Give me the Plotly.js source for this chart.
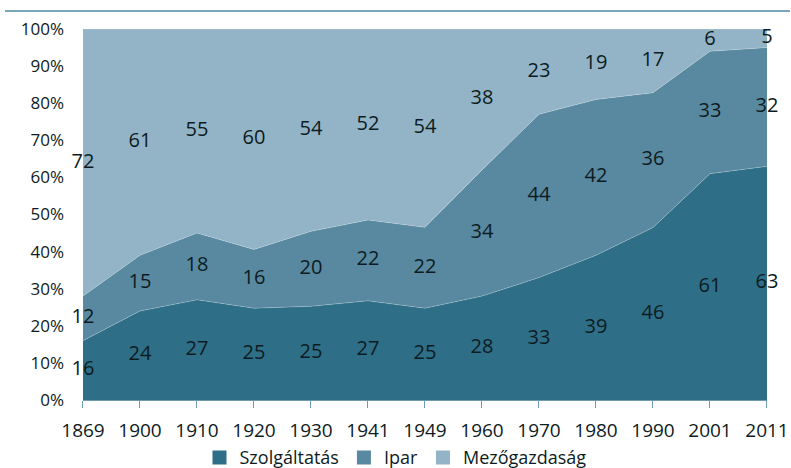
<!DOCTYPE html>
<html>
<head>
<meta charset="utf-8">
<script src="https://cdn.plot.ly/plotly-3.0.1.min.js"></script>
<style>
html,body{margin:0;padding:0;background:#fff;}
#chart{width:791px;height:468px;}
</style>
</head>
<body>
<div id="chart"></div>
<script>
const years = ['1869','1900','1910','1920','1930','1941','1949','1960','1970','1980','1990','2001','2011'];
const szolgaltatas = [16,24,27,25,25,27,25,28,33,39,46,61,63];
const ipar = [12,15,18,16,20,22,22,34,44,42,36,33,32];
const mezogazdasag = [72,61,55,60,54,52,54,38,23,19,17,6,5];
const seriesNames = ['Szolgáltatás','Ipar','Mezőgazdaság'];
const colors = ['#2E6F87','#5889A0','#92B4C6'];

const all = [szolgaltatas, ipar, mezogazdasag];
const traces = all.map((vals,i)=>({
  type:'scatter', mode:'lines', x:years, y:vals, name:seriesNames[i],
  stackgroup:'one', groupnorm:'percent',
  line:{width:0.6,color:'rgba(255,255,255,0.35)'}, fillcolor:colors[i],
  hoverinfo:'skip', showlegend:false
}));

// legend entries as square markers
seriesNames.forEach((n,i)=>traces.push({type:'scatter',mode:'markers',x:[null],y:[null],name:n,
  marker:{symbol:'square',size:14,color:colors[i]},showlegend:true,hoverinfo:'skip'}));

// label positions: middle of each normalized band
const textX=[], textY=[], textT=[];
years.forEach((yr,j)=>{
  const tot = all.reduce((s,a)=>s+a[j],0);
  let cum=0;
  all.forEach(a=>{
    const v = a[j]/tot*100;
    textX.push(yr); textY.push(cum+v/2); textT.push(String(a[j]));
    cum+=v;
  });
});
traces.push({type:'scatter',mode:'text',x:textX,y:textY,text:textT,
  textfont:{family:'Open Sans, sans-serif',size:20,color:'#0d1b22'},
  showlegend:false,hoverinfo:'skip',cliponaxis:false});

// invisible trace carrying the tick-label axis
traces.push({type:'scatter',mode:'none',x:years,y:years.map(()=>null),xaxis:'x2',
  showlegend:false,hoverinfo:'skip'});

// decorative top rule across the chart frame
traces.push({type:'scatter',mode:'lines',x:[0,1],y:[0.5,0.5],xaxis:'x3',yaxis:'y3',
  line:{color:'#7BA5B8',width:2},showlegend:false,hoverinfo:'skip',cliponaxis:false});

const XD=[0.09936,0.97070], YD=[0,0.95128];
const layout = {
  width:791,height:468,
  margin:{l:5,r:1,t:10,b:68,autoexpand:false},
  paper_bgcolor:'#fff',plot_bgcolor:'#fff',
  showlegend:true,
  legend:{orientation:'h',x:0.5,xanchor:'center',xref:'container',y:0.022,yanchor:'middle',yref:'container',
    font:{family:'Open Sans, sans-serif',size:18,color:'#0d1b22'},
    traceorder:'normal',itemwidth:20,tracegroupgap:0},
  xaxis:{domain:XD,anchor:'y',type:'category',range:[0,12],showgrid:false,zeroline:false,
    showline:true,linecolor:'#6F9BB0',linewidth:1,showticklabels:false,
    ticks:'outside',ticklen:7,tickcolor:'#6F9BB0',
    fixedrange:true},
  xaxis2:{overlaying:'x',anchor:'y',side:'bottom',type:'category',range:[0,12],
    showgrid:false,zeroline:false,showline:false,
    ticks:'outside',ticklen:13,tickcolor:'rgba(0,0,0,0)',
    tickfont:{family:'Open Sans, sans-serif',size:19,color:'#0d1b22'},
    fixedrange:true},
  yaxis:{domain:YD,anchor:'x',range:[0,100],dtick:10,ticksuffix:'%',showgrid:false,zeroline:false,
    showline:false,ticks:'',ticklabelstandoff:18,
    tickfont:{family:'Open Sans, sans-serif',size:17,color:'#0d1b22'},
    fixedrange:true},
  xaxis3:{domain:[0,1],anchor:'y3',range:[0,1],visible:false,fixedrange:true},
  yaxis3:{domain:[0.995,1],anchor:'x3',range:[0,1],visible:false,fixedrange:true}
};
Plotly.newPlot('chart',traces,layout,{displayModeBar:false,staticPlot:true});
</script>
</body>
</html>
